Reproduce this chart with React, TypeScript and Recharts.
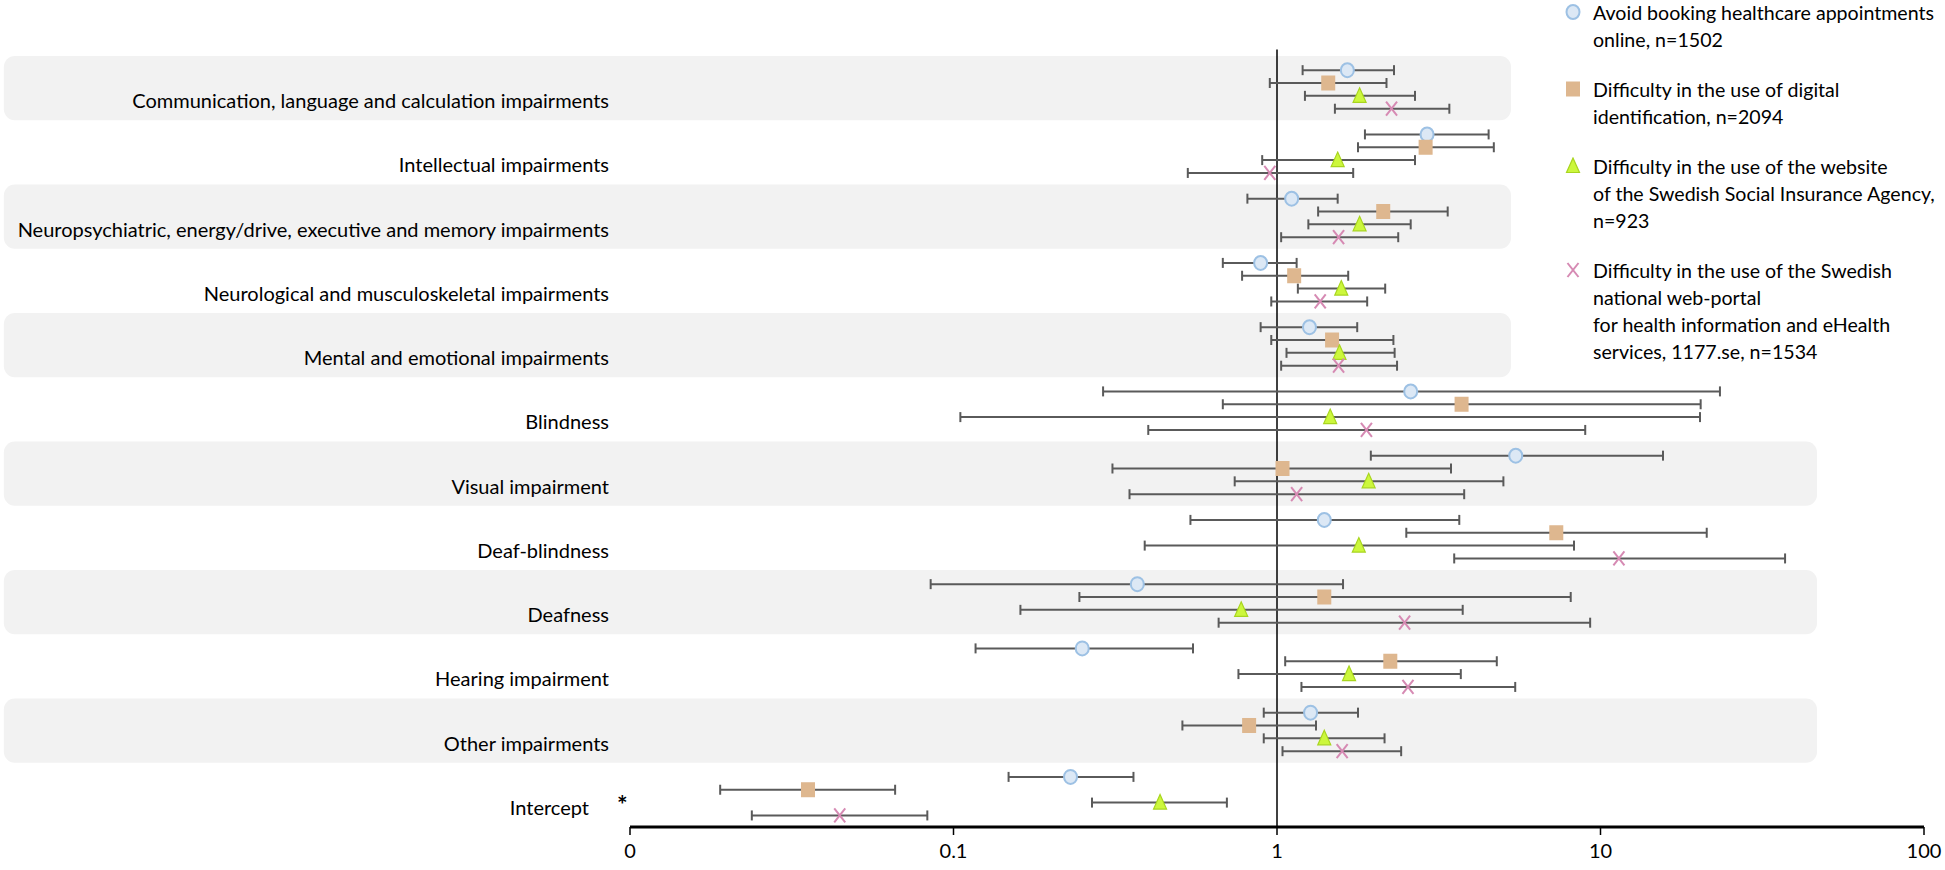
import React from 'react';
import { ScatterChart, Scatter, XAxis, YAxis, ErrorBar, ReferenceArea, ReferenceLine } from 'recharts';

const FONT = 'Lato, "Noto Sans", sans-serif';

const categories = [
  'Communication, language and calculation impairments',
  'Intellectual impairments',
  'Neuropsychiatric, energy/drive, executive and memory impairments',
  'Neurological and musculoskeletal impairments',
  'Mental and emotional impairments',
  'Blindness',
  'Visual impairment',
  'Deaf-blindness',
  'Deafness',
  'Hearing impairment',
  'Other impairments',
  'Intercept',
];

const xTicks = [0.01, 0.1, 1, 10, 100];
const xTickLabels = ['0', '0.1', '1', '10', '100'];

// odds ratio with lower / upper 95% CI, one value per category
const bookingOR = [1.65, 2.91, 1.11, 0.89, 1.26, 2.59, 5.47, 1.40, 0.37, 0.25, 1.27, 0.23];
const bookingLo = [1.2, 1.87, 0.81, 0.68, 0.89, 0.29, 1.95, 0.54, 0.085, 0.117, 0.91, 0.148];
const bookingHi = [2.3, 4.51, 1.54, 1.15, 1.77, 23.4, 15.6, 3.66, 1.6, 0.55, 1.78, 0.36];

const eidOR = [1.44, 2.88, 2.13, 1.13, 1.48, 3.72, 1.04, 7.3, 1.4, 2.24, 0.82, 0.0355];
const eidLo = [0.95, 1.78, 1.34, 0.78, 0.96, 0.68, 0.31, 2.51, 0.245, 1.06, 0.51, 0.019];
const eidHi = [2.18, 4.68, 3.37, 1.66, 2.29, 20.4, 3.45, 21.3, 8.09, 4.78, 1.32, 0.066];

const fkOR = [1.8, 1.54, 1.8, 1.58, 1.56, 1.46, 1.92, 1.79, 0.775, 1.67, 1.4, 0.435];
const fkLo = [1.22, 0.9, 1.25, 1.16, 1.07, 0.105, 0.74, 0.39, 0.161, 0.76, 0.91, 0.268];
const fkHi = [2.67, 2.67, 2.59, 2.16, 2.31, 20.3, 5.01, 8.28, 3.75, 3.7, 2.15, 0.7];

const portalOR = [2.26, 0.95, 1.55, 1.36, 1.55, 1.89, 1.15, 11.4, 2.48, 2.54, 1.59, 0.0445];
const portalLo = [1.51, 0.53, 1.03, 0.96, 1.03, 0.4, 0.35, 3.53, 0.66, 1.19, 1.04, 0.0238];
const portalHi = [3.41, 1.72, 2.37, 1.9, 2.35, 8.97, 3.79, 37.2, 9.29, 5.45, 2.42, 0.083];

const legendLines = [
  ['Avoid booking healthcare appointments', 'online, n=1502'],
  ['Difficulty in the use of digital', 'identification, n=2094'],
  ['Difficulty in the use of the website', 'of the Swedish Social Insurance Agency,', 'n=923'],
  ['Difficulty in the use of the Swedish', 'national web-portal', 'for health information and eHealth', 'services, 1177.se, n=1534'],
];

// vertical place of each series inside its row
const ROW_OFFSETS = [0.22, 0.42, 0.62, 0.82];

// band extents in axis units (bands run behind the labels)
const BAND_LEFT = 0.000116;
const BAND_RIGHT_TOP = 5.29;
const BAND_RIGHT_BOTTOM = 46.7;

const CircleDot = ({ cx, cy }: any) => (
  <ellipse cx={cx} cy={cy} rx={6.5} ry={7} fill="#dce8f5" stroke="#9dc1e4" strokeWidth={2} />
);
const SquareDot = ({ cx, cy }: any) => (
  <rect x={cx - 7} y={cy - 7.5} width={14} height={15} fill="#deb78f" />
);
const TriangleDot = ({ cx, cy }: any) => (
  <polygon
    points={`${cx},${cy - 8} ${cx + 6.5},${cy + 6.5} ${cx - 6.5},${cy + 6.5}`}
    fill="#ccf73c"
    stroke="#a8d51f"
    strokeWidth={1.2}
  />
);
const CrossDot = ({ cx, cy }: any) => (
  <g stroke="#d68ab3" strokeWidth={2}>
    <line x1={cx - 5.5} y1={cy - 7} x2={cx + 5.5} y2={cy + 7} />
    <line x1={cx + 5.5} y1={cy - 7} x2={cx - 5.5} y2={cy + 7} />
  </g>
);

const series = [
  { key: 'booking', or: bookingOR, lo: bookingLo, hi: bookingHi, shape: CircleDot, legend: legendLines[0] },
  { key: 'eid', or: eidOR, lo: eidLo, hi: eidHi, shape: SquareDot, legend: legendLines[1] },
  { key: 'fk', or: fkOR, lo: fkLo, hi: fkHi, shape: TriangleDot, legend: legendLines[2] },
  { key: 'portal', or: portalOR, lo: portalLo, hi: portalHi, shape: CrossDot, legend: legendLines[3] },
];

const seriesData = series.map((s, k) =>
  categories.map((c, i) => ({
    name: c,
    x: s.or[i],
    y: i + ROW_OFFSETS[k],
    err: [s.or[i] - s.lo[i], s.hi[i] - s.or[i]],
  }))
);

const rowTicks = categories.map((_, i) => i + 0.5);

const CategoryTick = ({ x, y, payload }: any) => {
  const idx = Math.floor(payload.value);
  const label = categories[idx];
  if (label === 'Intercept') {
    return (
      <g>
        <text x={x - 20} y={y + 12} textAnchor="end" dominantBaseline="central" fontFamily={FONT} fontSize={20} fill="#000">
          {label}
        </text>
        <text x={x + 8} y={y + 9} textAnchor="start" dominantBaseline="central" fontFamily={FONT} fontSize={25} fontWeight="bold" fill="#000">
          *
        </text>
      </g>
    );
  }
  return (
    <text x={x} y={y + 12} textAnchor="end" dominantBaseline="central" fontFamily={FONT} fontSize={20} fill="#000">
      {label}
    </text>
  );
};

const BandShape = (p: any) => (
  <rect x={p.x} y={p.y} width={p.width} height={p.height} rx={11} ry={11} fill="#f2f2f2" />
);

function LegendBox() {
  return (
    <div style={{ position: 'absolute', left: 1563, top: -1, fontFamily: FONT, fontSize: 19.6, lineHeight: '27px', color: '#000' }}>
      {series.map((s) => {
        const Shape = s.shape;
        return (
          <div key={s.key} style={{ position: 'relative', paddingLeft: 30, marginBottom: 23 }}>
            <svg width={16} height={18} style={{ position: 'absolute', left: 2, top: 4 }}>
              <Shape cx={8} cy={9} />
            </svg>
            {s.legend.map((line) => (
              <div key={line} style={{ whiteSpace: 'nowrap' }}>{line}</div>
            ))}
          </div>
        );
      })}
    </div>
  );
}

export default function App() {
  return (
    <div style={{ position: 'absolute', left: 0, top: 0, width: 1945, height: 870, background: '#fff', overflow: 'hidden' }}>
      <ScatterChart width={1945} height={870} margin={{ top: 49.6, right: 21, bottom: 0, left: 0 }}>
        {categories.map((c, i) =>
          i % 2 === 0 ? (
            <ReferenceArea
              key={c}
              x1={BAND_LEFT}
              x2={i < 6 ? BAND_RIGHT_TOP : BAND_RIGHT_BOTTOM}
              y1={i}
              y2={i + 1}
              ifOverflow="visible"
              shape={BandShape}
            />
          ) : null
        )}
        <XAxis
          type="number"
          dataKey="x"
          scale="log"
          domain={[0.01, 100]}
          ticks={xTicks}
          interval={0}
          allowDataOverflow
          height={43}
          tickFormatter={(v: number) => xTickLabels[xTicks.findIndex((t) => Math.abs(t - v) < 1e-9)]}
          axisLine={{ stroke: '#000', strokeWidth: 3 }}
          tickLine={{ stroke: '#000', strokeWidth: 1.5 }}
          tickSize={8}
          tickMargin={9}
          tick={{ fill: '#000', fontSize: 20, fontFamily: FONT }}
        />
        <YAxis
          type="number"
          dataKey="y"
          domain={[-0.1, 12]}
          reversed
          allowDataOverflow
          width={630}
          ticks={rowTicks}
          interval={0}
          tickSize={0}
          tickMargin={21}
          axisLine={false}
          tickLine={false}
          tick={<CategoryTick />}
        />
        <ReferenceLine x={1} stroke="#000" strokeWidth={1.5} />
        {series.map((s, k) => (
          <Scatter key={s.key} name={s.key} data={seriesData[k]} shape={s.shape} isAnimationActive={false}>
            <ErrorBar dataKey="err" direction="x" width={5} stroke="#5a5a5a" strokeWidth={2} isAnimationActive={false} />
          </Scatter>
        ))}
      </ScatterChart>
      <LegendBox />
    </div>
  );
}
